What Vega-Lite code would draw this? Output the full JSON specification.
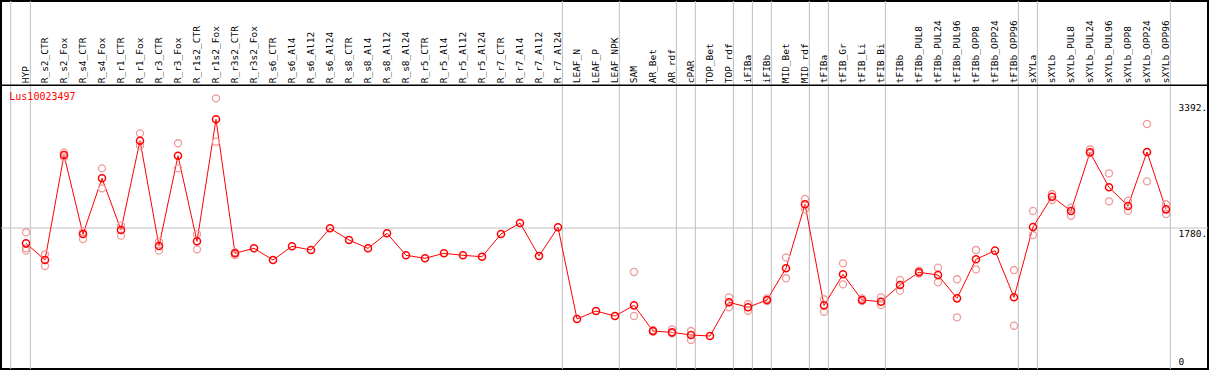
{
  "$schema": "https://vega.github.io/schema/vega-lite/v6.json",
  "width": 1207,
  "height": 368,
  "padding": {"left": 1, "top": 1, "right": 1, "bottom": 1},
  "autosize": {"type": "none"},
  "background": "white",
  "config": {"view": {"stroke": "black", "strokeWidth": 2}},
  "datasets": {
    "means": [
      {"cat": "HYP", "value": 1583}, {"cat": "R_s2_CTR", "value": 1369}, {"cat": "R_s2_Fox", "value": 2718},
      {"cat": "R_s4_CTR", "value": 1703}, {"cat": "R_s4_Fox", "value": 2419}, {"cat": "R_r1_CTR", "value": 1754},
      {"cat": "R_r1_Fox", "value": 2902}, {"cat": "R_r3_CTR", "value": 1549}, {"cat": "R_r3_Fox", "value": 2709},
      {"cat": "R_r1s2_CTR", "value": 1609}, {"cat": "R_r1s2_Fox", "value": 3177}, {"cat": "R_r3s2_CTR", "value": 1455},
      {"cat": "R_r3s2_Fox", "value": 1519}, {"cat": "R_s6_CTR", "value": 1369}, {"cat": "R_s6_Al4", "value": 1545},
      {"cat": "R_s6_Al12", "value": 1497}, {"cat": "R_s6_Al24", "value": 1776}, {"cat": "R_s8_CTR", "value": 1626},
      {"cat": "R_s8_Al4", "value": 1519}, {"cat": "R_s8_Al12", "value": 1712}, {"cat": "R_s8_Al24", "value": 1429},
      {"cat": "R_r5_CTR", "value": 1391}, {"cat": "R_r5_Al4", "value": 1455}, {"cat": "R_r5_Al12", "value": 1429},
      {"cat": "R_r5_Al24", "value": 1411}, {"cat": "R_r7_CTR", "value": 1703}, {"cat": "R_r7_Al4", "value": 1844},
      {"cat": "R_r7_Al12", "value": 1420}, {"cat": "R_r7_Al24", "value": 1789}, {"cat": "LEAF_N", "value": 611},
      {"cat": "LEAF_P", "value": 713}, {"cat": "LEAF_NPK", "value": 649}, {"cat": "SAM", "value": 786},
      {"cat": "AR_Bet", "value": 456}, {"cat": "AR_rdf", "value": 439}, {"cat": "cPAR", "value": 405},
      {"cat": "TOP_Bet", "value": 392}, {"cat": "TOP_rdf", "value": 825}, {"cat": "iFIBa", "value": 761},
      {"cat": "iFIBb", "value": 855}, {"cat": "MID_Bet", "value": 1262}, {"cat": "MID_rdf", "value": 2085},
      {"cat": "tFIBa", "value": 786}, {"cat": "tFIB_Gr", "value": 1185}, {"cat": "tFIB_Li", "value": 855},
      {"cat": "tFIB_Bi", "value": 833}, {"cat": "tFIBb", "value": 1047}, {"cat": "tFIBb_PUL8", "value": 1211},
      {"cat": "tFIBb_PUL24", "value": 1176}, {"cat": "tFIBb_PUL96", "value": 876}, {"cat": "tFIBb_OPP8", "value": 1378},
      {"cat": "tFIBb_OPP24", "value": 1489}, {"cat": "tFIBb_OPP96", "value": 889}, {"cat": "sXYLa", "value": 1793},
      {"cat": "sXYLb", "value": 2183}, {"cat": "sXYLb_PUL8", "value": 1999}, {"cat": "sXYLb_PUL24", "value": 2753},
      {"cat": "sXYLb_PUL96", "value": 2303}, {"cat": "sXYLb_OPP8", "value": 2063}, {"cat": "sXYLb_OPP24", "value": 2757},
      {"cat": "sXYLb_OPP96", "value": 2020}
    ],
    "reps": [
      {"cat": "HYP", "value": 1725}, {"cat": "HYP", "value": 1519}, {"cat": "HYP", "value": 1489},
      {"cat": "R_s2_CTR", "value": 1442}, {"cat": "R_s2_CTR", "value": 1292},
      {"cat": "R_s2_Fox", "value": 2748}, {"cat": "R_s2_Fox", "value": 2689},
      {"cat": "R_s4_CTR", "value": 1733}, {"cat": "R_s4_CTR", "value": 1639},
      {"cat": "R_s4_Fox", "value": 2547}, {"cat": "R_s4_Fox", "value": 2290},
      {"cat": "R_r1_CTR", "value": 1810}, {"cat": "R_r1_CTR", "value": 1682},
      {"cat": "R_r1_Fox", "value": 2997}, {"cat": "R_r1_Fox", "value": 2838},
      {"cat": "R_r3_CTR", "value": 1604}, {"cat": "R_r3_CTR", "value": 1489},
      {"cat": "R_r3_Fox", "value": 2869}, {"cat": "R_r3_Fox", "value": 2547},
      {"cat": "R_r1s2_CTR", "value": 1699}, {"cat": "R_r1s2_CTR", "value": 1506},
      {"cat": "R_r1s2_Fox", "value": 3447}, {"cat": "R_r1s2_Fox", "value": 2889},
      {"cat": "R_r3s2_CTR", "value": 1433}, {"cat": "R_r3s2_CTR", "value": 1470},
      {"cat": "SAM", "value": 1215}, {"cat": "SAM", "value": 649},
      {"cat": "AR_Bet", "value": 470}, {"cat": "AR_Bet", "value": 445},
      {"cat": "AR_rdf", "value": 478}, {"cat": "AR_rdf", "value": 427},
      {"cat": "cPAR", "value": 456}, {"cat": "cPAR", "value": 341},
      {"cat": "TOP_rdf", "value": 889}, {"cat": "TOP_rdf", "value": 761},
      {"cat": "iFIBa", "value": 803}, {"cat": "iFIBa", "value": 717},
      {"cat": "iFIBb", "value": 875}, {"cat": "iFIBb", "value": 840},
      {"cat": "MID_Bet", "value": 1403}, {"cat": "MID_Bet", "value": 1134},
      {"cat": "MID_rdf", "value": 2153}, {"cat": "MID_rdf", "value": 2020},
      {"cat": "tFIBa", "value": 864}, {"cat": "tFIBa", "value": 704},
      {"cat": "tFIB_Gr", "value": 1326}, {"cat": "tFIB_Gr", "value": 1056},
      {"cat": "tFIB_Li", "value": 875}, {"cat": "tFIB_Li", "value": 840},
      {"cat": "tFIB_Bi", "value": 889}, {"cat": "tFIB_Bi", "value": 790},
      {"cat": "tFIBb", "value": 1112}, {"cat": "tFIBb", "value": 975},
      {"cat": "tFIBb_PUL8", "value": 1230}, {"cat": "tFIBb_PUL8", "value": 1195},
      {"cat": "tFIBb_PUL24", "value": 1270}, {"cat": "tFIBb_PUL24", "value": 1082},
      {"cat": "tFIBb_PUL96", "value": 1121}, {"cat": "tFIBb_PUL96", "value": 632},
      {"cat": "tFIBb_OPP8", "value": 1497}, {"cat": "tFIBb_OPP8", "value": 1249},
      {"cat": "tFIBb_OPP96", "value": 1240}, {"cat": "tFIBb_OPP96", "value": 524},
      {"cat": "sXYLa", "value": 1999}, {"cat": "sXYLa", "value": 1690},
      {"cat": "sXYLb", "value": 2217}, {"cat": "sXYLb", "value": 2140},
      {"cat": "sXYLb_PUL8", "value": 2041}, {"cat": "sXYLb_PUL8", "value": 1938},
      {"cat": "sXYLb_PUL24", "value": 2792}, {"cat": "sXYLb_PUL24", "value": 2740},
      {"cat": "sXYLb_PUL96", "value": 2483}, {"cat": "sXYLb_PUL96", "value": 2123},
      {"cat": "sXYLb_OPP8", "value": 2131}, {"cat": "sXYLb_OPP8", "value": 2003},
      {"cat": "sXYLb_OPP24", "value": 3117}, {"cat": "sXYLb_OPP24", "value": 2380},
      {"cat": "sXYLb_OPP96", "value": 2085}, {"cat": "sXYLb_OPP96", "value": 1960}
    ],
    "seps": [
      {"cat": "HYP"}, {"cat": "R_r7_Al24"}, {"cat": "LEAF_NPK"}, {"cat": "AR_rdf"}, {"cat": "cPAR"},
      {"cat": "TOP_rdf"}, {"cat": "iFIBa"}, {"cat": "iFIBb"}, {"cat": "MID_rdf"}, {"cat": "tFIBa"},
      {"cat": "tFIB_Bi"}, {"cat": "tFIBb_OPP96"}, {"cat": "sXYLa"}, {"cat": "sXYLb_OPP96"}
    ],
    "lead": [{"cat": "HYP"}],
    "gene": [{"label": "Lus10023497", "cat": "HYP", "value": 3468}],
    "hline": [{"value": 1780}],
    "header": [{"value": 3614}]
  },
  "layer": [
    {
      "data": {"name": "seps"},
      "mark": {"type": "rule", "color": "#c0c0c0", "strokeWidth": 1},
      "encoding": {
        "x": {
          "field": "cat", "type": "nominal", "bandPosition": 0.73,
          "scale": {
            "domain": ["HYP","R_s2_CTR","R_s2_Fox","R_s4_CTR","R_s4_Fox","R_r1_CTR","R_r1_Fox","R_r3_CTR","R_r3_Fox","R_r1s2_CTR","R_r1s2_Fox","R_r3s2_CTR","R_r3s2_Fox","R_s6_CTR","R_s6_Al4","R_s6_Al12","R_s6_Al24","R_s8_CTR","R_s8_Al4","R_s8_Al12","R_s8_Al24","R_r5_CTR","R_r5_Al4","R_r5_Al12","R_r5_Al24","R_r7_CTR","R_r7_Al4","R_r7_Al12","R_r7_Al24","LEAF_N","LEAF_P","LEAF_NPK","SAM","AR_Bet","AR_rdf","cPAR","TOP_Bet","TOP_rdf","iFIBa","iFIBb","MID_Bet","MID_rdf","tFIBa","tFIB_Gr","tFIB_Li","tFIB_Bi","tFIBb","tFIBb_PUL8","tFIBb_PUL24","tFIBb_PUL96","tFIBb_OPP8","tFIBb_OPP24","tFIBb_OPP96","sXYLa","sXYLb","sXYLb_PUL8","sXYLb_PUL24","sXYLb_PUL96","sXYLb_OPP8","sXYLb_OPP24","sXYLb_OPP96"],
            "range": [15.5, 1174.5],
            "paddingInner": 0,
            "paddingOuter": 0
          },
          "axis": {
            "orient": "top",
            "offset": -84.3,
            "title": null,
            "domain": false,
            "ticks": false,
            "grid": false,
            "labelAngle": -90,
            "labelPadding": 2.5,
            "labelFont": "DejaVu Sans Mono",
            "labelFontSize": 9.5,
            "labelColor": "black",
            "labelOverlap": false,
            "labelLimit": 200
          }
        }
      }
    },
    {
      "data": {"name": "lead"},
      "mark": {"type": "rule", "color": "#c0c0c0", "strokeWidth": 1, "xOffset": -15.3},
      "encoding": {"x": {"field": "cat", "type": "nominal"}}
    },
    {
      "data": {"name": "hline"},
      "mark": {"type": "rule", "color": "#c0c0c0", "strokeWidth": 1},
      "encoding": {
        "y": {
          "field": "value", "type": "quantitative",
          "scale": {"domain": [-32.1, 4698], "nice": false, "zero": false},
          "axis": {
            "orient": "right",
            "offset": -30,
            "title": null,
            "domain": false,
            "ticks": false,
            "grid": false,
            "values": [0, 1780, 3392],
            "labelPadding": 0,
            "labelAlign": "left",
            "labelBaseline": {"expr": "datum.value === 0 ? 'bottom' : 'top'"},
            "labelExpr": "datum.value === 0 ? '0' : format(datum.value, 'd') + '.'",
            "labelFont": "DejaVu Sans Mono",
            "labelFontSize": 9.5,
            "labelColor": "black",
            "labelFlush": false,
            "labelOverlap": false
          }
        }
      }
    },
    {
      "data": {"name": "header"},
      "mark": {"type": "rule", "color": "black", "strokeWidth": 1.5},
      "encoding": {"y": {"field": "value", "type": "quantitative"}}
    },
    {
      "data": {"name": "means"},
      "mark": {"type": "line", "color": "#ff0000", "strokeWidth": 1},
      "encoding": {
        "x": {"field": "cat", "type": "nominal"},
        "y": {"field": "value", "type": "quantitative"},
        "order": {"value": null}
      }
    },
    {
      "data": {"name": "reps"},
      "mark": {"type": "point", "shape": "circle", "filled": false, "color": "#f09a9a", "strokeWidth": 1.3, "size": 50, "opacity": 1},
      "encoding": {
        "x": {"field": "cat", "type": "nominal"},
        "y": {"field": "value", "type": "quantitative"}
      }
    },
    {
      "data": {"name": "means"},
      "mark": {"type": "point", "shape": "circle", "filled": false, "color": "#ff0000", "strokeWidth": 1.5, "size": 50, "opacity": 1},
      "encoding": {
        "x": {"field": "cat", "type": "nominal"},
        "y": {"field": "value", "type": "quantitative"}
      }
    },
    {
      "data": {"name": "gene"},
      "mark": {"type": "text", "color": "#ff0000", "font": "DejaVu Sans Mono", "fontSize": 10, "align": "left", "baseline": "middle", "xOffset": -16.7},
      "encoding": {
        "x": {"field": "cat", "type": "nominal"},
        "y": {"field": "value", "type": "quantitative"},
        "text": {"field": "label"}
      }
    }
  ]
}
